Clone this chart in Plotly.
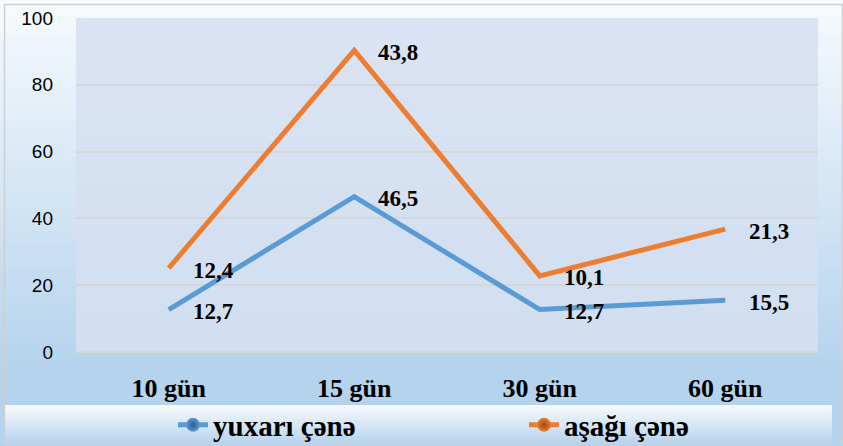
import plotly.graph_objects as go

categories = ["10 gün", "15 gün", "30 gün", "60 gün"]
upper_jaw = [12.7, 46.5, 12.7, 15.5]   # yuxarı çənə
lower_jaw = [12.4, 43.8, 10.1, 21.3]   # aşağı çənə
series_names = ["yuxarı çənə", "aşağı çənə"]
y_ticks = [0, 20, 40, 60, 80, 100]

BLUE = "#5b9bd5"
ORANGE = "#ed7d31"

# stacked line: second series sits on top of the first
stack_top = [a + b for a, b in zip(upper_jaw, lower_jaw)]

W, H = 843, 446
ML, MR, MT, MB = 76, 25, 18, 94
PW, PH = W - ML - MR, H - MT - MB

def px2x(px):
    return (px - ML) / PW

def px2y(py):
    return (H - MB - py) / PH

def mix(c1, c2, t):
    a = [int(c1[i:i + 2], 16) for i in (1, 3, 5)]
    b = [int(c2[i:i + 2], 16) for i in (1, 3, 5)]
    return "#%02x%02x%02x" % tuple(round(a[k] + (b[k] - a[k]) * t) for k in range(3))

shapes = []

def gradient(x0, x1, y0, y1, c_top, c_bot, n=40):
    step = (y1 - y0) / n
    for i in range(n):
        t = i / (n - 1)
        shapes.append(dict(type="rect", xref="paper", yref="paper",
                           x0=px2x(x0), x1=px2x(x1),
                           y0=px2y(y0 + i * step), y1=px2y(y0 + (i + 1) * step + 0.6),
                           fillcolor=mix(c_top, c_bot, t), line=dict(width=0),
                           layer="below"))

# outer chart background
gradient(0, W, 0, 372, "#f6fafd", "#b5d3ed", 50)
shapes.append(dict(type="rect", xref="paper", yref="paper",
                   x0=px2x(0), x1=px2x(W), y0=px2y(H), y1=px2y(371),
                   fillcolor="#b5d3ed", line=dict(width=0), layer="below"))
# legend band
gradient(4, 832, 405, 443, "#f7fafd", "#b9d5ee", 20)
# plot area
gradient(ML, ML + PW, MT, MT + PH, "#dae3f3", "#d1dff0", 30)
# border
shapes.append(dict(type="rect", xref="paper", yref="paper",
                   x0=px2x(4.5), x1=px2x(842.5), y0=px2y(4.5), y1=px2y(443.5),
                   fillcolor="rgba(0,0,0,0)", line=dict(color="#d0d0d0", width=1.5),
                   layer="below"))

fig = go.Figure()

fig.add_trace(go.Scatter(x=categories, y=upper_jaw, mode="lines",
                         line=dict(color=BLUE, width=5), showlegend=False,
                         name=series_names[0]))
fig.add_trace(go.Scatter(x=categories, y=stack_top, mode="lines",
                         line=dict(color=ORANGE, width=5), showlegend=False,
                         name=series_names[1]))

# legend entries (line with spherical marker), one legend box each
for name, col, dark, lg in [(series_names[0], BLUE, "#2a5f93", "legend"),
                            (series_names[1], ORANGE, "#9c4a12", "legend2")]:
    fig.add_trace(go.Scatter(x=[None], y=[None], mode="lines+markers", name=name,
                             legend=lg,
                             line=dict(color=col, width=5),
                             marker=dict(size=14, color=col,
                                         gradient=dict(type="radial", color=dark))))

annotations = []
for vals, ys in [(upper_jaw, upper_jaw), (lower_jaw, stack_top)]:
    for c, v, y in zip(categories, vals, ys):
        annotations.append(dict(x=c, y=y, xref="x", yref="y",
                                text=("%.1f" % v).replace(".", ","),
                                showarrow=False, xanchor="left", yanchor="middle",
                                xshift=22, yshift=-2,
                                font=dict(family="Liberation Serif", size=23,
                                          color="#000000", weight="bold")))

legend_common = dict(orientation="h", xanchor="left", yanchor="middle",
                     bgcolor="rgba(0,0,0,0)", itemclick=False,
                     font=dict(family="Liberation Serif", size=29, color="#000000",
                               weight="bold"))

fig.update_layout(
    width=W, height=H,
    margin=dict(l=ML, r=MR, t=MT, b=MB, autoexpand=False),
    paper_bgcolor="#ffffff",
    plot_bgcolor="rgba(0,0,0,0)",
    shapes=shapes,
    annotations=annotations,
    showlegend=True,
    legend=dict(x=px2x(173), y=px2y(425), **legend_common),
    legend2=dict(x=px2x(524), y=px2y(425), **legend_common),
    xaxis=dict(type="category", range=[-0.5, 3.5], showgrid=False, zeroline=False,
               showline=False, ticks="",
               ticklabelstandoff=18,
               tickfont=dict(family="Liberation Serif", size=26, color="#000000",
                             weight="bold")),
    yaxis=dict(range=[0, 100], tickvals=y_ticks, showgrid=True,
               gridcolor="#d6d6d6", gridwidth=1.5, zeroline=True,
               zerolinecolor="#d6d6d6", zerolinewidth=1.5, showline=False,
               ticks="", ticklabelstandoff=22,
               tickfont=dict(family="Liberation Sans", size=19, color="#000000")),
)

fig.write_html("out.html")
